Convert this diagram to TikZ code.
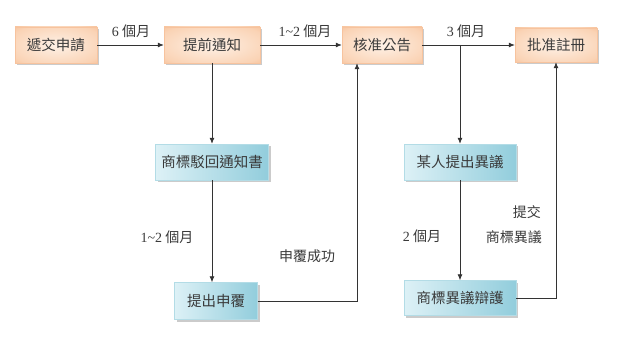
\documentclass[tikz,border=0pt]{standalone}
\usepackage{fontspec}
\setmainfont{Noto Sans CJK TC}
\newfontfamily\numfont{Liberation Serif}
\usetikzlibrary{arrows.meta,shadows}
\definecolor{orgA}{HTML}{FEF1E6}
\definecolor{orgM}{HTML}{FAD3B5}
\definecolor{orgB}{HTML}{F3AA74}
\definecolor{bluA}{HTML}{DDF1F6}
\definecolor{bluB}{HTML}{92CDDC}
\definecolor{lnc}{HTML}{333333}
\definecolor{txc}{HTML}{3A3A3A}
\pgfdeclareradialshading{peachshade}{\pgfpoint{0bp}{0bp}}{color(0bp)=(orgA); color(30bp)=(orgM); color(48bp)=(orgB); color(75bp)=(orgB)}
\begin{document}
\begin{tikzpicture}[x=1pt,y=-1pt,
  boxbase/.style={inner sep=0pt, minimum height=36pt, text=txc,
    font=\fontsize{14.5}{16}\selectfont,
    drop shadow={shadow xshift=2pt, shadow yshift=-2pt, fill=black!40, opacity=0.5}},
  obox/.style={boxbase, draw=orgB!70!white, shading=peachshade},
  bbox/.style={boxbase, draw=bluB!70!white, left color=bluA, right color=bluB},
  lbl/.style={text=txc, font=\fontsize{14}{16}\selectfont, inner sep=0pt},
  arr/.style={draw=lnc, line width=0.8pt, -{Latex[length=6pt,width=5pt]}},
  ln/.style={draw=lnc, line width=0.8pt}]
\fill[white] (0,0) rectangle (618,353);
\useasboundingbox (0,0) rectangle (618,353);
% boxes
\node[obox, minimum width=82pt] (a) at (56,45) {遞交申請};
\node[obox, minimum width=96pt] (b) at (212,45) {提前通知};
\node[obox, minimum width=80pt] (c) at (382,45) {核准公告};
\node[obox, minimum width=82pt, minimum height=34pt] (d) at (556,45) {批准註冊};
\node[bbox, minimum width=113pt] (e) at (212,162) {商標駁回通知書};
\node[bbox, minimum width=83pt, minimum height=37pt] (f) at (216,301) {提出申覆};
\node[bbox, minimum width=112pt] (g) at (460,162) {某人提出異議};
\node[bbox, minimum width=112pt, minimum height=35pt] (h) at (460,298) {商標異議辯護};
% connectors
\draw[arr] (a) -- (b);
\draw[arr] (b) -- (c);
\draw[arr] (c) -- (d);
\coordinate (br) at (460,45);
\draw[arr] (br) -- (g.north);
\draw[arr] (b.south) -- (b.south |- e.north);
\draw[arr] (e.south) -- (e.south |- f.north);
\draw[arr] (g) -- (h);
\draw[arr] (f.east) -| ([xshift=-25pt]c.south);
\draw[arr] (h.east) -| (d.south);
% labels
\node[lbl] (l1) at (131,31) {{\numfont 6} 個月};
\node[lbl] (l2) at (305,31) {{\numfont 1\textasciitilde 2} 個月};
\node[lbl] (l3) at (466,31) {{\numfont 3} 個月};
\node[lbl] (l4) at (167,237) {{\numfont 1\textasciitilde 2} 個月};
\node[lbl] (l5) at (307,256) {申覆成功};
\node[lbl] (l6) at (422,236) {{\numfont 2} 個月};
\node[lbl, anchor=east] (l7) at (541,212) {提交};
\node[lbl, anchor=east] (l8) at (542,237) {商標異議};
\end{tikzpicture}
\end{document}
